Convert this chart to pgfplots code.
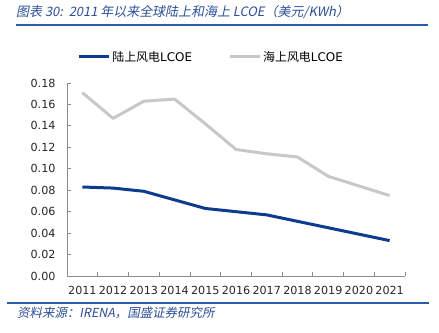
\documentclass[border=0pt]{standalone}
\usepackage{pgfplots}
\pgfplotsset{compat=1.18}
\usepackage{fontspec}
\setmainfont{DejaVu Sans}
\newfontfamily\cjk{Noto Sans CJK SC}
\newfontfamily\cjkit[FakeSlant=0.2]{Noto Sans CJK SC}
\definecolor{onshore}{HTML}{0B3C8F}
\definecolor{offshore}{HTML}{C8C8C8}
\definecolor{titleblue}{HTML}{2C4E96}
\definecolor{rulecol}{HTML}{2A5CAA}
\definecolor{axisgray}{HTML}{8C8C8C}
\begin{document}
\begin{tikzpicture}[x=1bp,y=1bp]
\path[use as bounding box] (0,0) rectangle (439,332);
\node[anchor=west, text=titleblue, font=\cjkit\fontsize{13}{15}\selectfont, inner sep=0pt] at (16,320) {图表 30:\ \ 2011 年以来全球陆上和海上 LCOE（美元/KWh）};
\draw[rulecol, line width=1.2bp] (16,307) -- (428,307);
\draw[rulecol, line width=1.2bp] (7,29) -- (429,29);
\node[anchor=west, text=titleblue, font=\cjkit\fontsize{12.5}{14}\selectfont, inner sep=0pt] at (17,19) {资料来源：IRENA，国盛证券研究所};
\begin{axis}[
  at={(67bp,56bp)}, anchor=south west,
  scale only axis, width=338bp, height=193bp,
  xmin=-0.5, xmax=10.5, ymin=0, ymax=0.18,
  axis x line*=bottom, axis y line*=left,
  axis line style={axisgray, line width=0.8bp, -},
  xtick={0,...,10}, xticklabels={2011,2012,2013,2014,2015,2016,2017,2018,2019,2020,2021},
  minor xtick={-0.5,0.5,...,10.5},
  major x tick style={draw=none},
  minor tick style={axisgray, line width=0.8bp},
  major tick style={axisgray, line width=0.8bp},
  major tick length=4bp, minor tick length=4bp,
  tick align=inside,
  ytick={0,0.02,...,0.181},
  /pgf/number format/fixed, /pgf/number format/fixed zerofill, /pgf/number format/precision=2,
  /pgf/number format/assume math mode=true,
  ticklabel style={font=\fontsize{11.2}{13}\selectfont, text=black!85},
  xticklabel style={yshift=-7bp},
  yticklabel style={xshift=-8bp},
  clip=false,
  legend style={at={(0.03,1.135)}, anchor=west, draw=none, fill=none,
    legend columns=2, font=\fontsize{12}{14}\selectfont, inner sep=0pt,
    /tikz/every even column/.append style={column sep=34bp}},
  legend image code/.code={\draw[#1] (0bp,0bp) -- (30bp,0bp);},
]
\addplot[onshore, line width=3bp, line join=round] coordinates {
(0,0.083) (1,0.082) (2,0.079) (3,0.071) (4,0.063) (5,0.060) (6,0.057) (7,0.051) (8,0.045) (9,0.039) (10,0.033)};
\addlegendentry{{\cjk 陆上风电}LCOE}
\addplot[offshore, line width=3bp, line join=round] coordinates {
(0,0.171) (1,0.147) (2,0.163) (3,0.165) (4,0.142) (5,0.118) (6,0.114) (7,0.111) (8,0.093) (9,0.084) (10,0.075)};
\addlegendentry{{\cjk 海上风电}LCOE}
\end{axis}
\end{tikzpicture}
\end{document}
